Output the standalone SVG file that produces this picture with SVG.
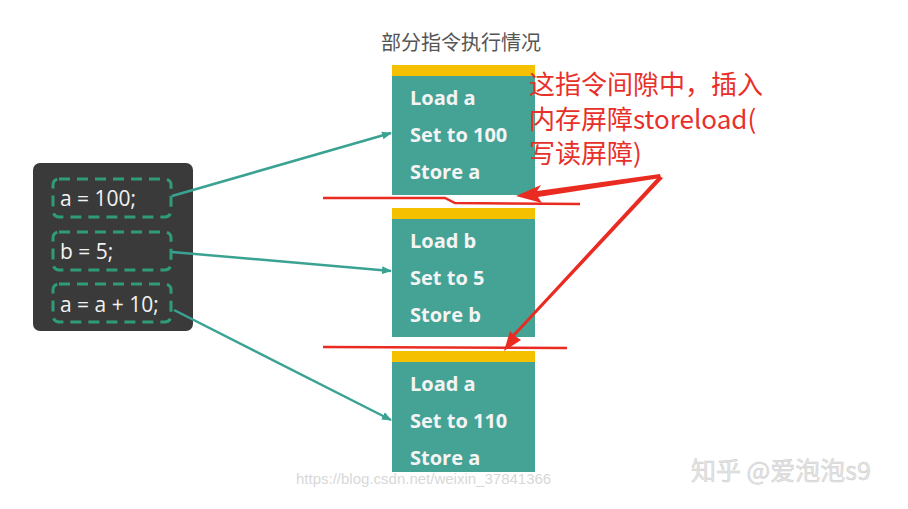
<svg xmlns="http://www.w3.org/2000/svg" width="908" height="509" viewBox="0 0 908 509">
<style>
.code{font-family:"Open Sans","Noto Sans",sans-serif;font-size:21px;fill:#f2f2f2}
.dash{fill:none;stroke:#2f9c78;stroke-width:3;stroke-dasharray:11 7}
.box{fill:#45a395}
.bar{fill:#f5c000}
.op{font-family:"Open Sans","Noto Sans",sans-serif;font-size:20px;font-weight:bold;fill:#f4f4f4}
.conn{stroke:#3aa293;stroke-width:2.5;fill:none}
.red{fill:#e8302a;font-family:"Noto Sans CJK SC","Noto Sans",sans-serif;font-size:26px}
.redline{stroke:#ea2b22;stroke-width:2.5;fill:none}
</style>
<defs>
<marker id="ah" markerWidth="10" markerHeight="10" refX="9" refY="5" orient="auto" markerUnits="userSpaceOnUse">
<path d="M0,1 L10,5 L0,9 Z" fill="#3aa293"/>
</marker>
</defs>
<rect width="908" height="509" fill="#ffffff"/>
<text x="381" y="50" font-family="Noto Sans CJK SC,sans-serif" font-size="20" fill="#555">部分指令执行情况</text>
<g id="code">
<rect x="33" y="163" width="160" height="168" rx="7" fill="#3a3a3a"/>
<rect class="dash" x="53" y="179" width="118" height="38" rx="6"/>
<rect class="dash" x="53" y="232" width="118" height="38" rx="6"/>
<rect class="dash" x="53" y="284" width="118" height="38" rx="6"/>
<text class="code" x="60" y="206">a = 100;</text>
<text class="code" x="60" y="259">b = 5;</text>
<text class="code" x="60" y="312">a = a + 10;</text>
</g>
<g id="box1">
<rect class="box" x="392" y="74" width="143" height="121"/>
<rect class="bar" x="392" y="65" width="143" height="11"/>
<text class="op" x="410" y="105">Load a</text>
<text class="op" x="410" y="142">Set to 100</text>
<text class="op" x="410" y="179">Store a</text>
</g>
<g id="box2">
<rect class="box" x="392" y="217" width="143" height="120"/>
<rect class="bar" x="392" y="208" width="143" height="11"/>
<text class="op" x="410" y="248">Load b</text>
<text class="op" x="410" y="285">Set to 5</text>
<text class="op" x="410" y="322">Store b</text>
</g>
<g id="box3">
<rect class="box" x="392" y="360" width="143" height="112"/>
<rect class="bar" x="392" y="351" width="143" height="11"/>
<text class="op" x="410" y="391">Load a</text>
<text class="op" x="410" y="428">Set to 110</text>
<text class="op" x="410" y="465">Store a</text>
</g>
<g id="connectors">
<line class="conn" x1="172" y1="196" x2="391" y2="133" marker-end="url(#ah)"/>
<line class="conn" x1="172" y1="252" x2="391" y2="271" marker-end="url(#ah)"/>
<line class="conn" x1="174" y1="310" x2="391" y2="420" marker-end="url(#ah)"/>
</g>
<g id="annotation">
<text class="red" x="529" y="94">这指令间隙中，插入</text>
<text class="red" x="529" y="129">内存屏障storeload(</text>
<text class="red" x="529" y="163">写读屏障)</text>
<path class="redline" d="M323,198 L445,198 L455,203 L580,204"/>
<path class="redline" d="M323,347 L567,348"/>
<path d="M660,174 L537,191 L541,185 L516,196 L542,203 L538,197 L661,178 Z" fill="#ea2b22"/>
<path d="M659,176 L663,178 L515,336 L521,340 L504,351 L510,331 L513,334 Z" fill="#ea2b22"/>
</g>
<text x="296" y="484" font-family="Liberation Sans,sans-serif" font-size="15" fill="#d8d8d8">https://blog.csdn.net/weixin_37841366</text>
<text x="691" y="480" font-family="Noto Sans CJK SC,sans-serif" font-size="25" fill="#e4e4e4" stroke="#cfcfcf" stroke-width="0.5">知乎 @爱泡泡s9</text>
</svg>
